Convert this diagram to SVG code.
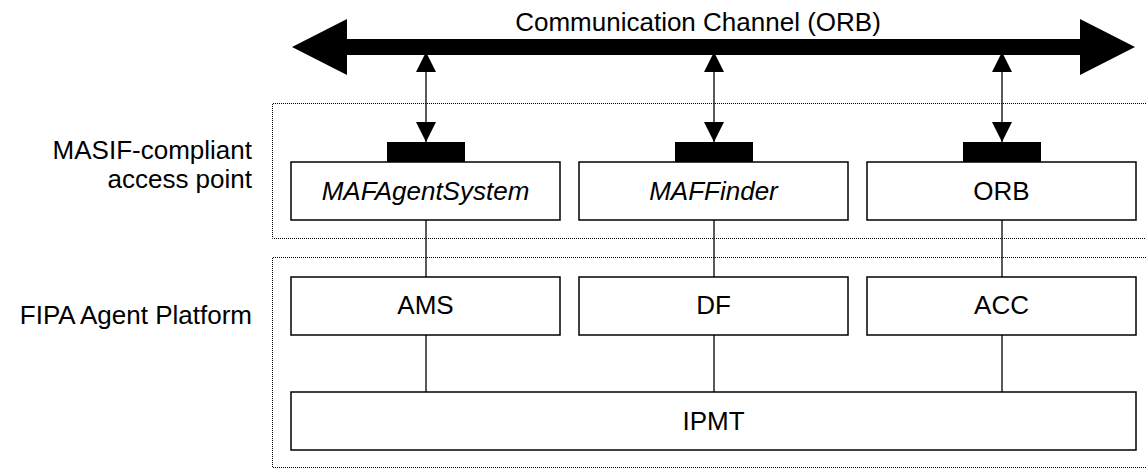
<svg xmlns="http://www.w3.org/2000/svg" width="1146" height="470" viewBox="0 0 1146 470">
<style>
text{font-family:"Liberation Sans",Arial,sans-serif;font-size:26px;fill:#000}
.c{text-anchor:middle}
.r{text-anchor:end}
.i{font-style:italic}
.box{fill:#fff;stroke:#000;stroke-width:1.5}
.dot{fill:none;stroke:#000;stroke-width:1;stroke-dasharray:1 1}
.ln{stroke:#000;stroke-width:1.3;fill:none}
</style>
<defs>
<marker id="ah" viewBox="0 0 20 20" refX="20" refY="10" markerWidth="20" markerHeight="20" markerUnits="userSpaceOnUse" orient="auto-start-reverse">
<path d="M0,0 L20,10 L0,20 Z" fill="#000"/>
</marker>
</defs>
<rect fill="#fff" width="1146" height="470"/>
<g id="regions">
<path class="dot" d="M1146,103.5 H272.5 V238.5 H1146"/>
<path class="dot" d="M1146,257.5 H272.5 V467.5 H1146"/>
<text class="r" x="252" y="159">MASIF-compliant</text>
<text class="r" x="252" y="188">access point</text>
<text class="r" x="252" y="324">FIPA Agent Platform</text>
</g>
<g id="channel">
<path d="M292,47 L347,19 L347,39 L1080,39 L1080,19 L1135,47 L1080,75 L1080,55 L347,55 L347,75 Z" fill="#000"/>
<text class="c" x="698" y="31">Communication Channel (ORB)</text>
</g>
<g id="connectors">
<line class="ln" x1="426" y1="52" x2="426" y2="142" marker-start="url(#ah)" marker-end="url(#ah)"/>
<line class="ln" x1="714" y1="52" x2="714" y2="142" marker-start="url(#ah)" marker-end="url(#ah)"/>
<line class="ln" x1="1002" y1="52" x2="1002" y2="142" marker-start="url(#ah)" marker-end="url(#ah)"/>
<line class="ln" x1="426" y1="220" x2="426" y2="277"/>
<line class="ln" x1="714" y1="220" x2="714" y2="277"/>
<line class="ln" x1="1002" y1="220" x2="1002" y2="277"/>
<line class="ln" x1="426" y1="335" x2="426" y2="392"/>
<line class="ln" x1="714" y1="335" x2="714" y2="392"/>
<line class="ln" x1="1002" y1="335" x2="1002" y2="392"/>
</g>
<g id="MAFAgentSystem">
<rect x="387" y="142" width="78" height="20" fill="#000"/>
<rect class="box" x="291" y="162" width="269" height="58"/>
<text class="c i" x="425.5" y="200">MAFAgentSystem</text>
</g>
<g id="MAFFinder">
<rect x="675" y="142" width="78" height="20" fill="#000"/>
<rect class="box" x="579" y="162" width="269" height="58"/>
<text class="c i" x="713.5" y="200">MAFFinder</text>
</g>
<g id="ORB">
<rect x="963" y="142" width="78" height="20" fill="#000"/>
<rect class="box" x="867" y="162" width="269" height="58"/>
<text class="c" x="1001.5" y="200">ORB</text>
</g>
<g id="AMS">
<rect class="box" x="291" y="277" width="269" height="58"/>
<text class="c" x="425.5" y="314">AMS</text>
</g>
<g id="DF">
<rect class="box" x="579" y="277" width="269" height="58"/>
<text class="c" x="713.5" y="314">DF</text>
</g>
<g id="ACC">
<rect class="box" x="867" y="277" width="269" height="58"/>
<text class="c" x="1001.5" y="314">ACC</text>
</g>
<g id="IPMT">
<rect class="box" x="291" y="392" width="845" height="58"/>
<text class="c" x="713.5" y="430">IPMT</text>
</g>
</svg>
